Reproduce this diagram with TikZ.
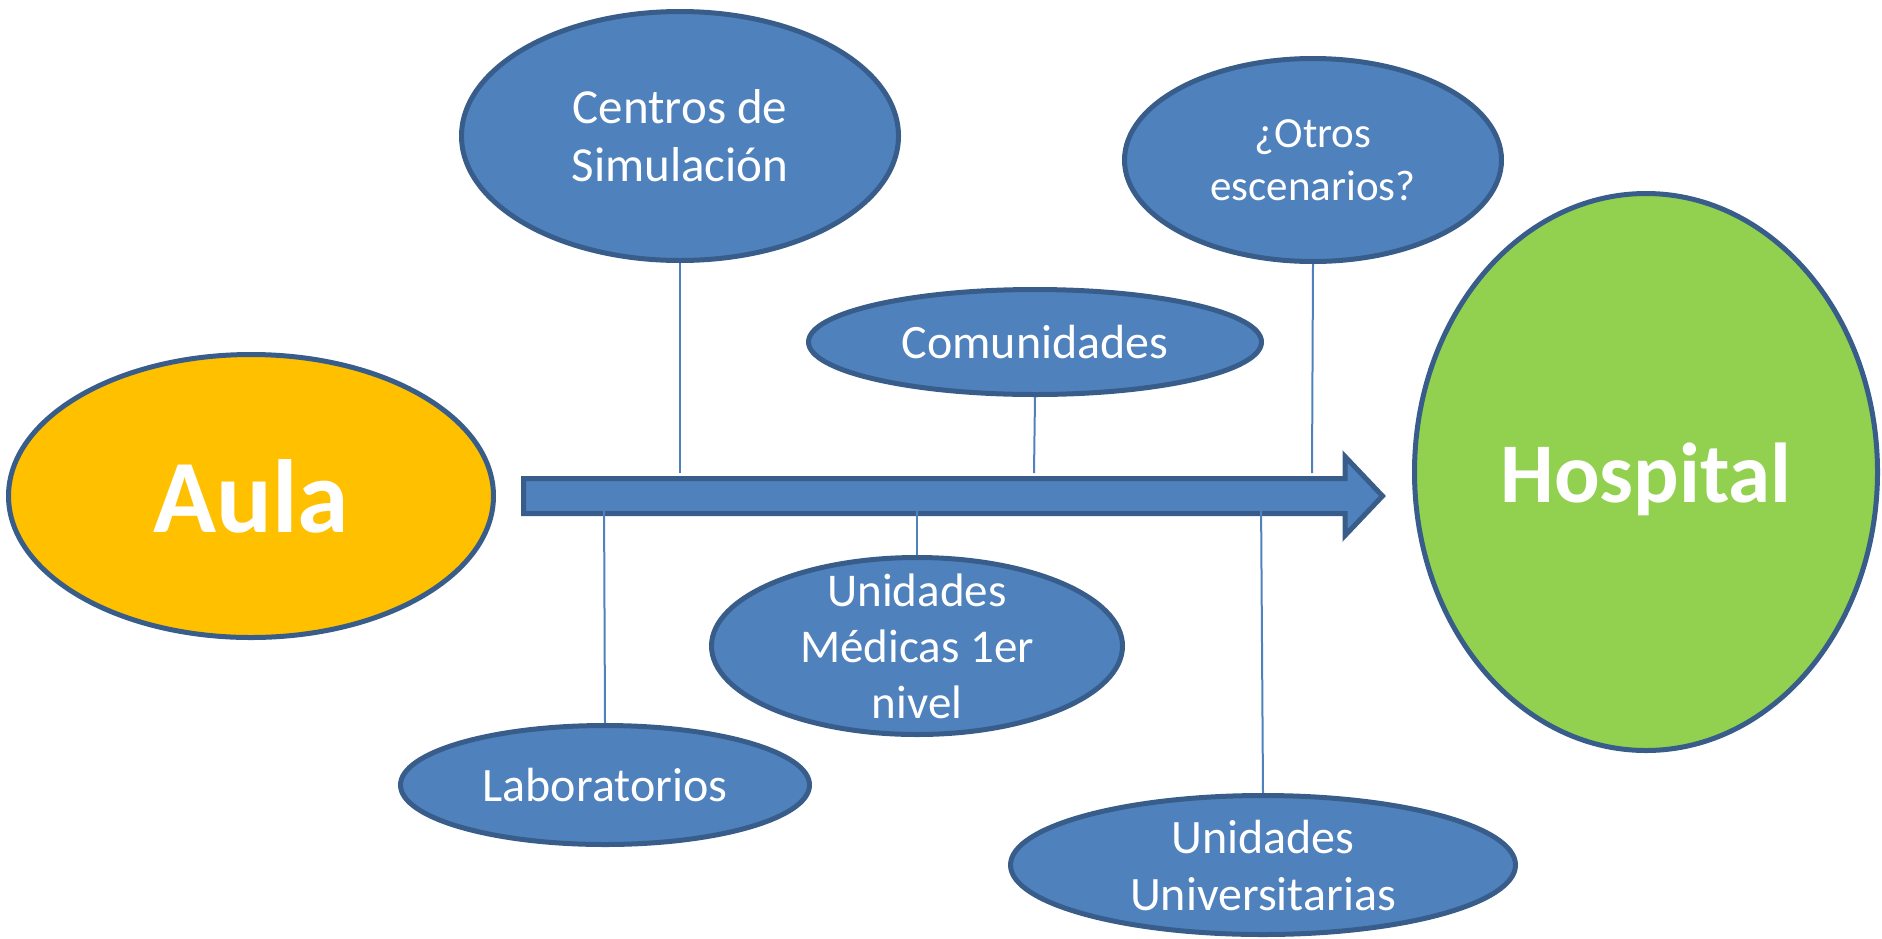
\documentclass[tikz,border=0pt]{standalone}
\usepackage{fontspec}
\setmainfont{Carlito}
\usetikzlibrary{shapes.geometric,backgrounds}
\definecolor{fillblue}{HTML}{4F81BD}
\definecolor{edgeblue}{HTML}{385D8A}
\definecolor{aulaorange}{HTML}{FFC000}
\definecolor{hospgreen}{HTML}{92D050}
\begin{document}
\begin{tikzpicture}[x=1pt,y=-1pt,
  blob/.style={ellipse, draw=edgeblue, line width=5pt, fill=fillblue, inner sep=0pt},
  txt/.style={text=white, align=center, inner sep=0pt, font=\fontsize{48}{57}\selectfont},
  bigtxt/.style={text=white, inner sep=0pt},
  tie/.style={draw=fillblue, line width=2pt},
  bar/.style={draw=edgeblue, line width=5pt, fill=fillblue, line join=miter}]
\useasboundingbox (0,0) rectangle (1882,938);

% main ellipses
\node[blob, fill=aulaorange, minimum width=485pt, minimum height=283pt,
  label={[bigtxt, font=\fontsize{104}{120}\bfseries\selectfont]center:Aula}] (aula) at (251,496) {};
\node[blob, fill=hospgreen, minimum width=463pt, minimum height=557pt,
  label={[bigtxt, font=\fontsize{85}{100}\bfseries\selectfont, yshift=-7pt]center:Hospital}] (hosp) at (1646,472) {};

% satellite ellipses
\node[blob, minimum width=437pt, minimum height=249pt,
  label={[txt, font=\fontsize{49}{58}\selectfont]center:Centros de\\Simulación}] (centros) at (680,136) {};
\node[blob, minimum width=377pt, minimum height=203pt,
  label={[txt, font=\fontsize{43}{53}\selectfont]center:¿Otros\\escenarios?}] (otros) at (1313,160) {};
\node[blob, minimum width=453pt, minimum height=105pt,
  label={[txt]center:Comunidades}] (comun) at (1035,342) {};
\node[blob, minimum width=411pt, minimum height=177pt,
  label={[txt, font=\fontsize{47}{56}\selectfont]center:Unidades\\Médicas 1er\\nivel}] (medicas) at (917,646) {};
\node[blob, minimum width=409pt, minimum height=119pt,
  label={[txt]center:Laboratorios}] (labs) at (605,785) {};
\node[blob, minimum width=505pt, minimum height=139pt,
  label={[txt]center:Unidades\\Universitarias}] (univ) at (1263,865) {};

% attachment points on the arrow
\coordinate (t1) at (680,473);
\coordinate (t2) at (1034,473);
\coordinate (t3) at (1312,473);
\coordinate (b1) at (604,497);
\coordinate (b2) at (917,497);
\coordinate (b3) at (1261,497);

\begin{pgfonlayer}{background}
  \draw[bar] (523.5,478.5) -- (1345,478.5) -- (1345,456.5) -- (1382.5,496) -- (1345,535.5)
    -- (1345,513.5) -- (523.5,513.5) -- cycle;
  \draw[tie] (centros.south) -- (t1);
  \draw[tie] (comun.south) -- (t2);
  \draw[tie] (otros.south) -- (t3);
  \draw[tie] (b1) -- (labs.north);
  \draw[tie] (b2) -- (medicas.north);
  \draw[tie] (b3) -- (univ.north);
\end{pgfonlayer}
\end{tikzpicture}
\end{document}
